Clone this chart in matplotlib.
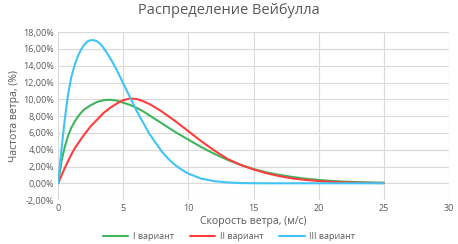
import matplotlib
matplotlib.use('Agg')
import matplotlib.pyplot as plt
from matplotlib.ticker import FuncFormatter

plt.rcParams['font.family'] = ['Open Sans', 'DejaVu Sans']

# wind speed, m/s
speed = [0, 0.25, 0.5, 0.75, 1, 1.25, 1.5, 1.75, 2, 2.25, 2.5, 2.75, 3, 3.25, 3.5, 3.75, 4, 4.5, 5, 5.5,
         6, 6.5, 7, 7.5, 8, 8.5, 9, 9.5, 10, 11, 12, 13, 14, 15, 16, 17, 18, 19, 20, 21, 22, 23, 24, 25]

# frequency, %
var1 = [0, 2.6, 4.3, 5.6, 6.6, 7.3, 7.9, 8.4, 8.8, 9.05, 9.3, 9.5, 9.7, 9.8, 9.9, 9.93, 9.95, 9.85, 9.6, 9.35,
        9.0, 8.6, 8.1, 7.6, 7.1, 6.6, 6.1, 5.65, 5.2, 4.3, 3.5, 2.8, 2.2, 1.7, 1.3, 1.0, 0.75, 0.55, 0.4,
        0.28, 0.2, 0.14, 0.1, 0.07]
var2 = [0, 0.9, 1.8, 2.6, 3.4, 4.1, 4.7, 5.25, 5.8, 6.3, 6.8, 7.2, 7.6, 8.0, 8.4, 8.7, 9.0, 9.5, 9.9, 10.1,
        10.05, 9.8, 9.45, 9.0, 8.5, 7.95, 7.4, 6.8, 6.2, 5.0, 3.9, 2.9, 2.2, 1.65, 1.2, 0.85, 0.58, 0.4, 0.27,
        0.17, 0.11, 0.07, 0.04, 0.03]
var3 = [0, 4.0, 7.5, 10.5, 12.6, 14.0, 15.1, 15.9, 16.5, 16.9, 17.05, 17.05, 16.9, 16.6, 16.1, 15.5, 14.9, 13.5,
        11.9, 10.3, 8.7, 7.3, 5.9, 4.8, 3.7, 2.85, 2.15, 1.6, 1.15, 0.55, 0.25, 0.1, 0.03, 0.01, 0, 0, 0, 0, 0,
        0, 0, 0, 0, 0]

labels = ['I вариант', 'II вариант', 'III вариант']
colors = ['#3fb45c', '#ff3d3d', '#40c4f4']

txt = '#595959'
fig = plt.figure(figsize=(4.58, 2.44), dpi=100)
ax = fig.add_axes([0.127, 0.180, 0.853, 0.688])

for y, lab, c in zip([var1, var2, var3], labels, colors):
    ax.plot(speed, y, color=c, lw=1.5, label=lab, solid_capstyle='round', solid_joinstyle='round')

ax.set_xlim(0, 30)
ax.set_ylim(-2, 18)
ax.set_xticks(range(0, 31, 5))
ax.set_yticks(range(-2, 19, 2))
ax.yaxis.set_major_formatter(FuncFormatter(lambda v, p: ('%.2f%%' % v).replace('.', ',')))
ax.grid(True, color='#d9d9d9', lw=0.8)
ax.set_axisbelow(True)
for s in ax.spines.values():
    s.set_visible(False)
ax.tick_params(length=0, labelsize=6.5, colors=txt, pad=3)

ax.set_xlabel('Скорость ветра, (м/с)', fontsize=7.5, color=txt, labelpad=2)
ax.set_ylabel('Частота ветра, (%)', fontsize=7.5, color=txt, labelpad=2)
fig.text(0.5, 0.955, 'Распределение Вейбулла', ha='center', va='center', fontsize=10.5, color=txt)

fig.legend(loc='center', bbox_to_anchor=(0.5, 0.03), ncol=3, frameon=False, fontsize=6.5,
           labelcolor=txt, handlelength=2.8, columnspacing=1.8, handletextpad=0.5)

fig.savefig('out.png', dpi=100)
